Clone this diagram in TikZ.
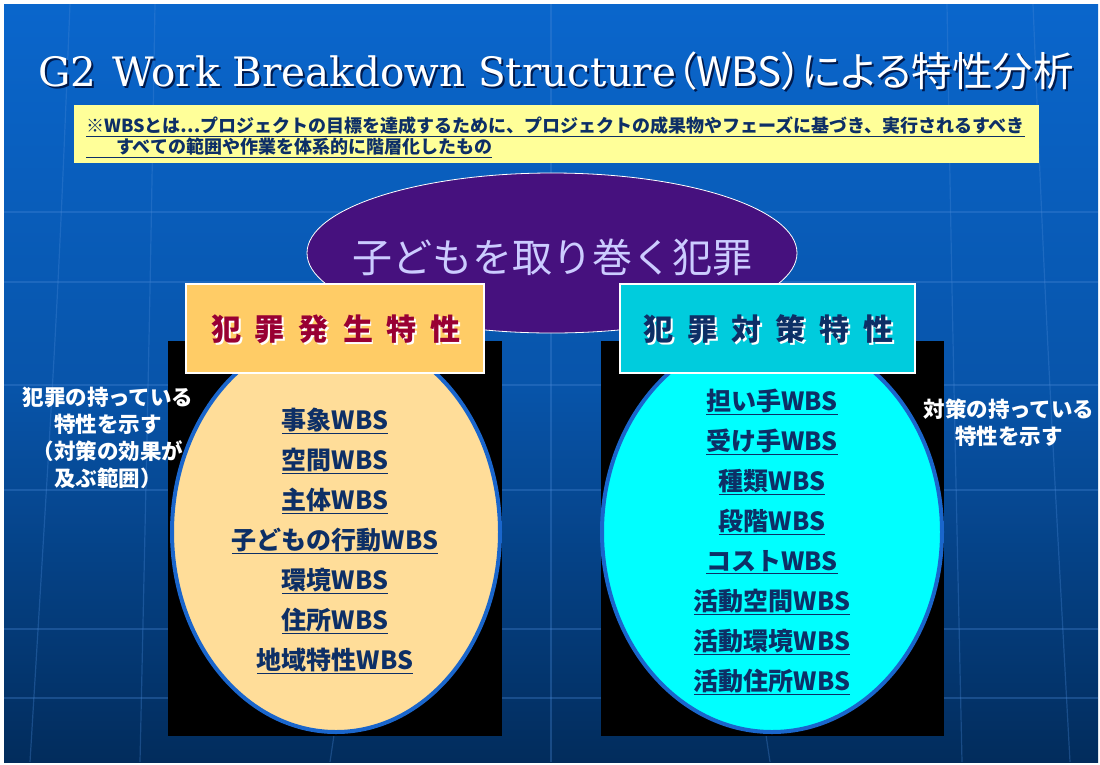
\documentclass[tikz,border=0pt]{standalone}
\usepackage{fontspec}
\setmainfont{DejaVu Serif}
\newfontfamily\jp{Noto Sans CJK JP}
\newfontfamily\jpp{Noto Sans CJK JP}[RawFeature=+palt]
\usetikzlibrary{shapes.geometric}
\definecolor{bgtop}{HTML}{0A66CC}
\definecolor{bgbot}{HTML}{022C5C}
\definecolor{gridc}{HTML}{4A8AD8}
\definecolor{navy}{HTML}{0D2F66}
\definecolor{shade}{HTML}{001A4D}
\definecolor{memo}{HTML}{FFFF99}
\definecolor{purp}{HTML}{46117E}
\definecolor{lav}{HTML}{CCCCFF}
\definecolor{peach}{HTML}{FFDD99}
\definecolor{hdrL}{HTML}{FFCC66}
\definecolor{hdrR}{HTML}{00CCDD}
\definecolor{crim}{HTML}{990033}
\definecolor{rim}{HTML}{1A66CC}
\definecolor{aqua}{HTML}{00FFFF}
\tikzset{
  gridline/.style={draw=gridc, opacity=0.32, line width=1.2pt},
  item/.style={font=\jp\bfseries\fontsize{25}{27}\selectfont, text=navy, inner sep=0pt},
  side/.style={font=\jp\bfseries\fontsize{21.5}{27}\selectfont, text=white, align=center, inner sep=0pt},
  hdr/.style={draw=white, line width=1.5pt, minimum width=#1, minimum height=89pt},
  hdrtext/.style={font=\jp\bfseries\fontsize{30}{32}\selectfont, inner sep=0pt},
  memotext/.style={font=\jp\bfseries\fontsize{18}{21}\selectfont, text=navy, inner sep=0pt, anchor=west},
}
\newcommand{\ulx}[1]{\underline{#1}}
% text with an offset shadow, in one box
\newcommand{\shadowed}[3]{\leavevmode\rlap{\hspace*{#2}\raisebox{-#2}{\textcolor{#1}{#3}}}#3}
\newcommand{\hdrL}{犯\hspace{14pt}罪\hspace{14pt}発\hspace{14pt}生\hspace{14pt}特\hspace{14pt}性}
\newcommand{\hdrR}{犯\hspace{14pt}罪\hspace{14pt}対\hspace{14pt}策\hspace{14pt}特\hspace{14pt}性}
\newcommand{\ttl}{G2\hspace{16pt}Work Breakdown Structure{\jpp（WBS）による特性分析}}
\begin{document}
\begin{tikzpicture}[x=1pt,y=-1pt]
\useasboundingbox (0,0) rectangle (1100,764);
\fill[white] (0,0) rectangle (1100,764);
\shade[top color=bgtop, bottom color=bgbot, middle color=bgtop!70!bgbot] (4,4) rectangle (1098,762);
% background wireframe
\begin{scope}
\clip (4,4) rectangle (1098,762);
\foreach \yy in {212,282,385,490,629,698} \draw[gridline] (4,\yy) -- (1098,\yy);
\draw[gridline] (551,4) -- (551,762);
\draw[gridline] (947,4) .. controls (952,300) .. (962,762);
\draw[gridline] (1033,4) .. controls (1045,300) .. (1070,762);
\draw[gridline] (155,4) .. controls (150,300) .. (140,762);
\draw[gridline] (70,4) .. controls (58,300) .. (30,762);
\draw[gridline] (360,560) -- (330,762);
\draw[gridline] (740,560) -- (770,762);
\end{scope}
% title
\node[font=\fontsize{40.5}{44}\selectfont, text=white, inner sep=0pt] (title) at (556,72) {\shadowed{shade}{2pt}{\ttl}};
% memo box
\node[fill=memo, minimum width=965pt, minimum height=58pt, inner sep=0pt] (memo) at (556.5,134) {};
\node[memotext] (m1) at (86,127) {\ulx{※WBSとは…プロジェクトの目標を達成するために、プロジェクトの成果物やフェーズに基づき、実行されるすべき}};
\node[memotext] (m2) at (86,148) {\ulx{\hspace{30pt}すべての範囲や作業を体系的に階層化したもの}};
% central ellipse
\node[ellipse, fill=purp, draw=white, line width=0.8pt, minimum width=490pt, minimum height=160pt, inner sep=0pt] (crime) at (552,253) {};
\node[font=\jp\fontsize{40}{44}\selectfont, text=lav, inner sep=0pt] (crimetext) at (552,257) {子どもを取り巻く犯罪};
% black panels
\fill[black] (168,341) rectangle (502,736);
\fill[black] (601,341) rectangle (944,736);
% ellipses
\node[ellipse, fill=peach, draw=rim, line width=4pt, minimum width=328pt, minimum height=400pt, inner sep=0pt] (occ) at (336,532) {};
\node[ellipse, fill=aqua, draw=rim, line width=4pt, minimum width=340pt, minimum height=400pt, inner sep=0pt] (cnt) at (772,532) {};
% headers
\node[hdr=298pt, fill=hdrL] (hL) at (335,328.5) {};
\node[hdr=295pt, fill=hdrR] (hR) at (767.5,328.5) {};
\node[hdrtext, text=crim] (hLt) at (336,330) {\shadowed{white}{2pt}{\hdrL}};
\node[hdrtext, text=navy] (hRt) at (768.5,330) {\shadowed{white}{2pt}{\hdrR}};
% left list
\node[item] (l1) at (335,421) {\ulx{事象WBS}};
\node[item] (l2) at (335,461) {\ulx{空間WBS}};
\node[item] (l3) at (335,501) {\ulx{主体WBS}};
\node[item] (l4) at (335,541) {\ulx{子どもの行動WBS}};
\node[item] (l5) at (335,581) {\ulx{環境WBS}};
\node[item] (l6) at (335,621) {\ulx{住所WBS}};
\node[item] (l7) at (335,661) {\ulx{地域特性WBS}};
% right list
\node[item] (r1) at (772,402) {\ulx{担い手WBS}};
\node[item] (r2) at (772,442) {\ulx{受け手WBS}};
\node[item] (r3) at (772,482) {\ulx{種類WBS}};
\node[item] (r4) at (772,522) {\ulx{段階WBS}};
\node[item] (r5) at (772,562) {\ulx{コストWBS}};
\node[item] (r6) at (772,602) {\ulx{活動空間WBS}};
\node[item] (r7) at (772,642) {\ulx{活動環境WBS}};
\node[item] (r8) at (772,682) {\ulx{活動住所WBS}};
% side notes
\node[side] (sL) at (108,438) {犯罪の持っている\\特性を示す\\（対策の効果が\\及ぶ範囲）};
\node[side] (sR) at (1009,423) {対策の持っている\\特性を示す};
\end{tikzpicture}
\end{document}
